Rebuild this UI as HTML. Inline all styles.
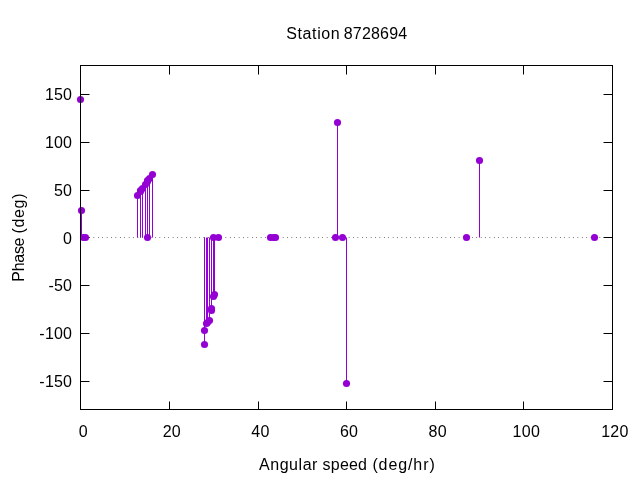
<!DOCTYPE html>
<html lang="en">
<head>
<meta charset="utf-8">
<title>Station 8728694</title>
<style>
html,body{margin:0;padding:0;background:#fff;}
body{width:640px;height:480px;overflow:hidden;}
svg{display:block;}
text{font-family:"Liberation Sans","DejaVu Sans",sans-serif;font-size:16px;fill:#000;}
</style>
</head>
<body>
<svg width="640" height="480" viewBox="0 0 640 480">
<rect x="0" y="0" width="640" height="480" fill="#ffffff"/>
<g stroke="#000" stroke-width="1" fill="none">
<path d="M80.5 94.5H89.5M612.5 94.5H603.5"/>
<path d="M80.5 142.5H89.5M612.5 142.5H603.5"/>
<path d="M80.5 190.5H89.5M612.5 190.5H603.5"/>
<path d="M80.5 237.5H89.5M612.5 237.5H603.5"/>
<path d="M80.5 285.5H89.5M612.5 285.5H603.5"/>
<path d="M80.5 333.5H89.5M612.5 333.5H603.5"/>
<path d="M80.5 381.5H89.5M612.5 381.5H603.5"/>
<path d="M80.5 409.5V401.5M80.5 65.5V74.5"/>
<path d="M169.5 409.5V401.5M169.5 65.5V74.5"/>
<path d="M258.5 409.5V401.5M258.5 65.5V74.5"/>
<path d="M346.5 409.5V401.5M346.5 65.5V74.5"/>
<path d="M435.5 409.5V401.5M435.5 65.5V74.5"/>
<path d="M523.5 409.5V401.5M523.5 65.5V74.5"/>
<path d="M612.5 409.5V401.5M612.5 65.5V74.5"/>
</g>
<line x1="80.45" y1="237.5" x2="612.5" y2="237.5" stroke="#000" stroke-width="1" stroke-dasharray="0.5 3.9"/>
<g stroke="#9400d3" stroke-width="1" fill="none">
<line x1="80.5" y1="237.5" x2="80.5" y2="99.5"/>
<line x1="81.5" y1="237.5" x2="81.5" y2="210.5"/>
<line x1="137.5" y1="237.5" x2="137.5" y2="195.5"/>
<line x1="140.5" y1="237.5" x2="140.5" y2="191.5"/>
<line x1="140.5" y1="237.5" x2="140.5" y2="190.5"/>
<line x1="142.5" y1="237.5" x2="142.5" y2="188.5"/>
<line x1="145.5" y1="237.5" x2="145.5" y2="184.5"/>
<line x1="147.5" y1="237.5" x2="147.5" y2="181.5"/>
<line x1="147.5" y1="237.5" x2="147.5" y2="180.5"/>
<line x1="149.5" y1="237.5" x2="149.5" y2="178.5"/>
<line x1="152.5" y1="237.5" x2="152.5" y2="174.5"/>
<line x1="204.5" y1="237.5" x2="204.5" y2="344.5"/>
<line x1="204.5" y1="237.5" x2="204.5" y2="330.5"/>
<line x1="206.5" y1="237.5" x2="206.5" y2="323.5"/>
<line x1="207.5" y1="237.5" x2="207.5" y2="322.5"/>
<line x1="209.5" y1="237.5" x2="209.5" y2="320.5"/>
<line x1="211.5" y1="237.5" x2="211.5" y2="308.5"/>
<line x1="211.5" y1="237.5" x2="211.5" y2="310.5"/>
<line x1="213.5" y1="237.5" x2="213.5" y2="296.5"/>
<line x1="214.5" y1="237.5" x2="214.5" y2="294.5"/>
<line x1="337.5" y1="237.5" x2="337.5" y2="122.5"/>
<line x1="346.5" y1="237.5" x2="346.5" y2="383.5"/>
<line x1="479.5" y1="237.5" x2="479.5" y2="160.5"/>
</g>
<g fill="#9400d3">
<circle cx="80.5" cy="99.5" r="3.55"/>
<circle cx="81.5" cy="210.5" r="3.55"/>
<circle cx="83.5" cy="237.5" r="3.55"/>
<circle cx="85.5" cy="237.5" r="3.55"/>
<circle cx="137.5" cy="195.5" r="3.55"/>
<circle cx="140.5" cy="191.5" r="3.55"/>
<circle cx="140.5" cy="190.5" r="3.55"/>
<circle cx="142.5" cy="188.5" r="3.55"/>
<circle cx="145.5" cy="184.5" r="3.55"/>
<circle cx="147.5" cy="181.5" r="3.55"/>
<circle cx="147.5" cy="180.5" r="3.55"/>
<circle cx="147.5" cy="237.5" r="3.55"/>
<circle cx="149.5" cy="178.5" r="3.55"/>
<circle cx="152.5" cy="174.5" r="3.55"/>
<circle cx="204.5" cy="344.5" r="3.55"/>
<circle cx="204.5" cy="330.5" r="3.55"/>
<circle cx="206.5" cy="323.5" r="3.55"/>
<circle cx="207.5" cy="322.5" r="3.55"/>
<circle cx="209.5" cy="320.5" r="3.55"/>
<circle cx="211.5" cy="308.5" r="3.55"/>
<circle cx="211.5" cy="310.5" r="3.55"/>
<circle cx="213.5" cy="296.5" r="3.55"/>
<circle cx="214.5" cy="294.5" r="3.55"/>
<circle cx="213.5" cy="237.5" r="3.55"/>
<circle cx="218.5" cy="237.5" r="3.55"/>
<circle cx="270.5" cy="237.5" r="3.55"/>
<circle cx="273.5" cy="237.5" r="3.55"/>
<circle cx="275.5" cy="237.5" r="3.55"/>
<circle cx="335.5" cy="237.5" r="3.55"/>
<circle cx="337.5" cy="122.5" r="3.55"/>
<circle cx="342.5" cy="237.5" r="3.55"/>
<circle cx="346.5" cy="383.5" r="3.55"/>
<circle cx="466.5" cy="237.5" r="3.55"/>
<circle cx="479.5" cy="160.5" r="3.55"/>
<circle cx="594.5" cy="237.5" r="3.55"/>
</g>
<rect x="80.5" y="65.5" width="532.0" height="344.0" stroke="#000" stroke-width="1" fill="none"/>
<g text-anchor="end">
<text x="72.2" y="100" letter-spacing="0.2">150</text>
<text x="72.2" y="148" letter-spacing="0.2">100</text>
<text x="72.2" y="196" letter-spacing="0.2">50</text>
<text x="72.2" y="244" letter-spacing="0.2">0</text>
<text x="72.2" y="291" letter-spacing="0.2">-50</text>
<text x="72.2" y="339" letter-spacing="0.2">-100</text>
<text x="72.2" y="387" letter-spacing="0.2">-150</text>
</g>
<g text-anchor="middle">
<text x="83.25" y="437" letter-spacing="0.3">0</text>
<text x="171.87" y="437" letter-spacing="0.3">20</text>
<text x="260.49" y="437" letter-spacing="0.3">40</text>
<text x="349.11" y="437" letter-spacing="0.3">60</text>
<text x="437.73" y="437" letter-spacing="0.3">80</text>
<text x="526.35" y="437" letter-spacing="0.3">100</text>
<text x="614.97" y="437" letter-spacing="0.3">120</text>
<text text-anchor="start" y="39"><tspan x="286.3" letter-spacing="0.6">Station</tspan> <tspan x="343.7" letter-spacing="0.2">8728694</tspan></text>
<text text-anchor="start" y="470"><tspan x="259" letter-spacing="0.55">Angular</tspan> <tspan x="322.6" letter-spacing="0.2">speed</tspan> <tspan x="372.4" letter-spacing="0.9">(deg/hr)</tspan></text>
<text transform="translate(24 237.5) rotate(-90)" text-anchor="start" y="0"><tspan x="-44.2" letter-spacing="-0.3">Phase</tspan> <tspan x="3.9" letter-spacing="0.7">(deg)</tspan></text>
</g>
</svg>
</body>
</html>
